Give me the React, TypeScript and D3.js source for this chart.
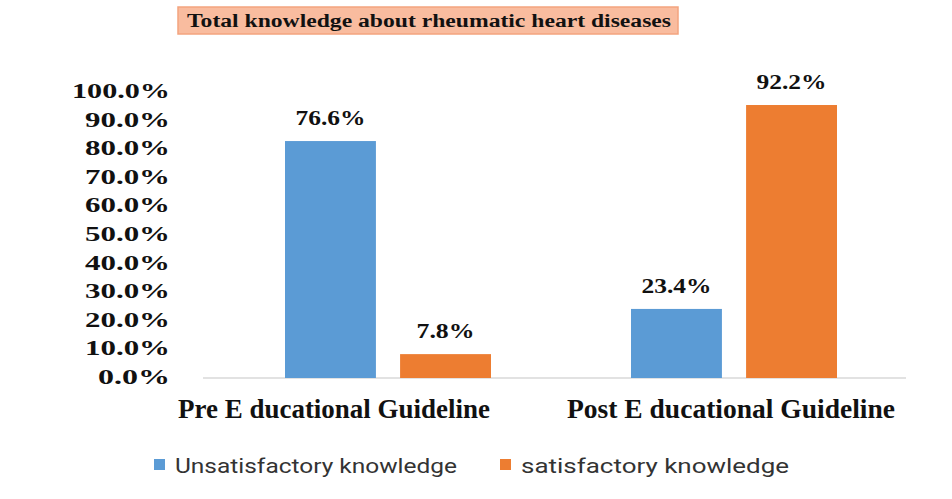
import React from "react";
import * as d3 from "d3";

const categories = ["Pre E ducational Guideline", "Post E ducational Guideline"];
const seriesNames = ["Unsatisfactory knowledge", "satisfactory knowledge"];
// bar heights as drawn in the picture (percent)
const unsatisfactoryBars = [82.5, 23.8];
const satisfactoryBars = [8.0, 95.1];
// labels printed above the bars
const unsatisfactoryLabels = ["76.6%", "23.4%"];
const satisfactoryLabels = ["7.8%", "92.2%"];
const yTicks = [0, 10, 20, 30, 40, 50, 60, 70, 80, 90, 100];
const title = "Total knowledge about rheumatic heart diseases";

const W = 952;
const H = 499;
const colors = ["#5B9BD5", "#ED7D31"];
const serif = "'Times New Roman', Times, 'Liberation Serif', serif";

export default function App() {
  const y = d3.scaleLinear().domain([0, 100]).range([377, 91]);
  const x0 = d3.scaleBand<string>().domain(categories).range([215, 907]).padding(0);
  const x1 = d3.scaleBand<string>().domain(seriesNames).range([-103, 103]).paddingInner(0.21).paddingOuter(0);
  const series = [
    { name: seriesNames[0], values: unsatisfactoryBars, labels: unsatisfactoryLabels },
    { name: seriesNames[1], values: satisfactoryBars, labels: satisfactoryLabels },
  ];
  const catLabelOffset = [-54, -3];
  const catLabelWidth = [312, 328];

  return (
    <svg width={W} height={H} style={{ position: "absolute", left: 0, top: 0, background: "#fff" }}>
      <rect x={0} y={0} width={W} height={H} fill="#fff" />
      {/* title */}
      <rect x={178} y={7} width={500} height={27} fill="#F9BC9F" stroke="#F3A47F" strokeWidth={1.5} />
      <text x={187} y={27} fontFamily={serif} fontWeight="bold" fontSize={18} fill="#111"
        textLength={484} lengthAdjust="spacingAndGlyphs">{title}</text>

      {/* y tick labels */}
      {yTicks.map((t) => (
        <text key={t} x={170} y={y(t) + 7} textAnchor="end" fontFamily={serif} fontWeight="bold"
          fontSize={21} fill="#111" textLength={t === 100 ? 98 : t === 0 ? 72 : 85} lengthAdjust="spacingAndGlyphs">
          {t.toFixed(1) + "%"}
        </text>
      ))}

      {/* baseline */}
      <line x1={203} x2={906} y1={y(0) + 1} y2={y(0) + 1} stroke="#D9D9D9" strokeWidth={1.5} />

      {/* bars */}
      {categories.map((c, i) => (
        <g key={c} transform={`translate(${x0(c)! + x0.bandwidth() / 2},0)`}>
          {series.map((s, j) => (
            <g key={s.name}>
              <rect x={x1(s.name)!} y={y(s.values[i])} width={x1.bandwidth()}
                height={y(0) + 1 - y(s.values[i])} fill={colors[j]} />
              <text x={x1(s.name)! + x1.bandwidth() / 2} y={y(s.values[i]) - 16} textAnchor="middle"
                fontFamily={serif} fontWeight="bold" fontSize={22} fill="#111"
                textLength={s.labels[i].length === 4 ? 58 : 70} lengthAdjust="spacingAndGlyphs">
                {s.labels[i]}
              </text>
            </g>
          ))}
          <text x={catLabelOffset[i]} y={418} textAnchor="middle" fontFamily={serif} fontWeight="bold"
            fontSize={27} fill="#111" textLength={catLabelWidth[i]} lengthAdjust="spacingAndGlyphs">
            {c}
          </text>
        </g>
      ))}

      {/* legend */}
      {series.map((s, j) => {
        const lx = j === 0 ? 154 : 500;
        return (
          <g key={s.name}>
            <rect x={lx} y={459} width={11} height={11} fill={colors[j]} />
            <text x={lx + 21} y={473} fontFamily="Roboto, 'Liberation Sans', sans-serif" fontSize={21}
              fill="#333" textLength={j === 0 ? 282 : 268} lengthAdjust="spacingAndGlyphs">
              {s.name}
            </text>
          </g>
        );
      })}
    </svg>
  );
}
